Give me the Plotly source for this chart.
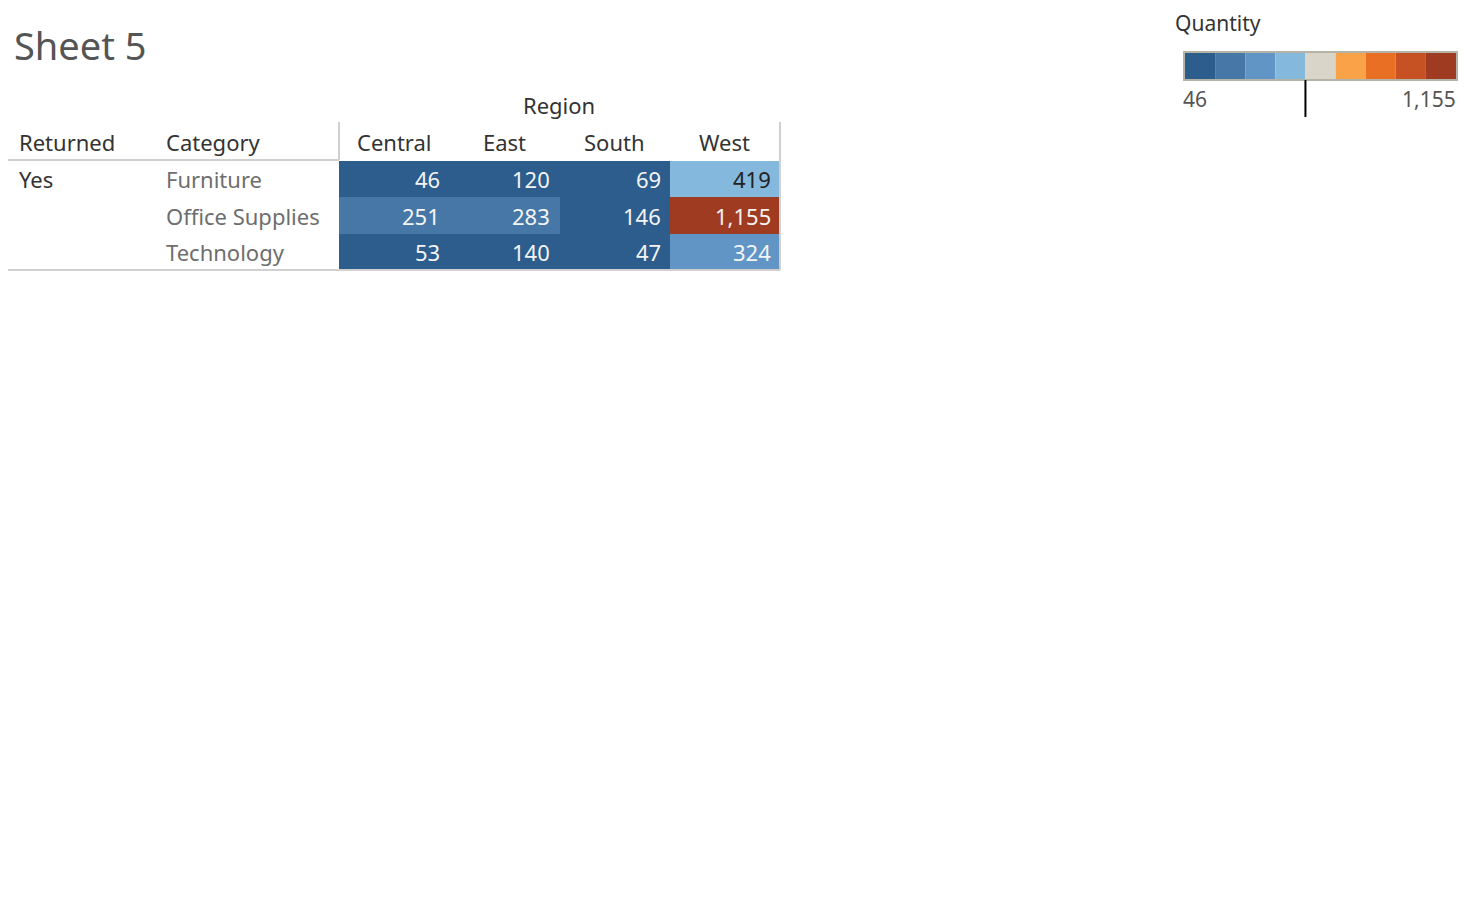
import plotly.graph_objects as go

# ---- data ----
regions = ["Central", "East", "South", "West"]
categories = ["Furniture", "Office Supplies", "Technology"]
returned = ["Yes"]
quantity = [
    [46, 120, 69, 419],
    [251, 283, 146, 1155],
    [53, 140, 47, 324],
]
q_min, q_max = 46, 1155
palette = ["#2c5d8c", "#4677a6", "#6195c5", "#84b8dc", "#d9d5c9",
           "#f9a247", "#e96f25", "#c65224", "#9e3b21"]

W, H = 1472, 908
FONT = "Noto Sans"

def py(px):
    return 1 - px / H

def pxx(px):
    return px / W

# discrete colorscale
n = len(palette)
cs = []
for i, c in enumerate(palette):
    cs.append([i / n, c])
    cs.append([(i + 1) / n, c])

fig = go.Figure()
fig.add_trace(go.Heatmap(
    z=quantity, x=regions, y=categories,
    colorscale=cs, zmin=q_min, zmax=q_max,
    showscale=False, xgap=0, ygap=0, hoverinfo="x+y+z",
))

def step_color(v):
    k = int((v - q_min) / (q_max - q_min) * n)
    return palette[min(max(k, 0), n - 1)]

def lum(hexc):
    r, g, b = (int(hexc[i:i + 2], 16) / 255 for i in (1, 3, 5))
    return 0.299 * r + 0.587 * g + 0.114 * b

ann = []
# cell values
for ri, cat in enumerate(categories):
    for ci, reg in enumerate(regions):
        v = quantity[ri][ci]
        col = "#222222" if lum(step_color(v)) > 0.62 else "#f4f4f4"
        ann.append(dict(x=reg, y=cat, xref="x", yref="y", text=f"{v:,}",
                        xanchor="right", xshift=48, showarrow=False,
                        font=dict(family=FONT, size=22, color=col)))
# column headers
for reg in regions:
    ann.append(dict(x=reg, y=py(142), xref="x", yref="paper", text=reg,
                    xanchor="center", yanchor="middle", showarrow=False,
                    font=dict(family=FONT, size=22, color="#333333")))
# row headers
for cat in categories:
    ann.append(dict(x=pxx(164), y=cat, xref="paper", yref="y", text=cat,
                    xanchor="left", showarrow=False,
                    font=dict(family=FONT, size=22, color="#6e6e6e")))
ann.append(dict(x=pxx(17), y=categories[0], xref="paper", yref="y", text=returned[0],
                xanchor="left", showarrow=False,
                font=dict(family=FONT, size=22, color="#333333")))
ann.append(dict(x=pxx(17), y=py(142), xref="paper", yref="paper", text="Returned",
                xanchor="left", yanchor="middle", showarrow=False,
                font=dict(family=FONT, size=22, color="#333333")))
ann.append(dict(x=pxx(164), y=py(142), xref="paper", yref="paper", text="Category",
                xanchor="left", yanchor="middle", showarrow=False,
                font=dict(family=FONT, size=22, color="#333333")))
ann.append(dict(x=pxx(559), y=py(105), xref="paper", yref="paper", text="Region",
                xanchor="center", yanchor="middle", showarrow=False,
                font=dict(family=FONT, size=22, color="#333333")))
ann.append(dict(x=pxx(12), y=py(45), xref="paper", yref="paper", text="Sheet 5",
                xanchor="left", yanchor="middle", showarrow=False,
                font=dict(family=FONT, size=38, color="#555555")))
# legend texts
ann.append(dict(x=pxx(1173), y=py(23), xref="paper", yref="paper", text="Quantity",
                xanchor="left", yanchor="middle", showarrow=False,
                font=dict(family=FONT, size=21, color="#333333")))
ann.append(dict(x=pxx(1181), y=py(99), xref="paper", yref="paper", text=f"{q_min:,}",
                xanchor="left", yanchor="middle", showarrow=False,
                font=dict(family=FONT, size=21, color="#555555")))
ann.append(dict(x=pxx(1458), y=py(99), xref="paper", yref="paper", text=f"{q_max:,}",
                xanchor="right", yanchor="middle", showarrow=False,
                font=dict(family=FONT, size=21, color="#555555")))

shapes = []
line_col = "#d0d0d0"
def hline(x0, x1, y, col=line_col, w=2):
    shapes.append(dict(type="line", xref="paper", yref="paper",
                       x0=pxx(x0), x1=pxx(x1), y0=py(y), y1=py(y),
                       line=dict(color=col, width=w)))
def vline(x, y0, y1, col=line_col, w=2):
    shapes.append(dict(type="line", xref="paper", yref="paper",
                       x0=pxx(x), x1=pxx(x), y0=py(y0), y1=py(y1),
                       line=dict(color=col, width=w)))
hline(8, 339, 160)
hline(8, 780, 270)
vline(339, 122, 160)
vline(780, 122, 270)

# color legend
lx0, lx1, ly0, ly1 = 1185, 1456, 53, 79
sw = (lx1 - lx0) / n
for i, c in enumerate(palette):
    shapes.append(dict(type="rect", xref="paper", yref="paper",
                       x0=pxx(lx0 + i * sw), x1=pxx(lx0 + (i + 1) * sw),
                       y0=py(ly1), y1=py(ly0), fillcolor=c, line=dict(width=0)))
shapes.append(dict(type="rect", xref="paper", yref="paper",
                   x0=pxx(lx0 - 1), x1=pxx(lx1 + 1), y0=py(ly1 + 1), y1=py(ly0 - 1),
                   line=dict(color="#b5b3a8", width=2)))
vline(lx0 + 4 * sw, 80, 117, col="#000000", w=2)

fig.update_layout(
    width=W, height=H, margin=dict(l=0, r=0, t=0, b=0),
    paper_bgcolor="white", plot_bgcolor="white",
    xaxis=dict(domain=[pxx(339), pxx(780)], showticklabels=False, showgrid=False,
               zeroline=False, ticks="", fixedrange=True),
    yaxis=dict(domain=[py(270), py(161)], showticklabels=False, showgrid=False,
               zeroline=False, ticks="", autorange="reversed", fixedrange=True),
    annotations=ann, shapes=shapes, showlegend=False,
)
fig.write_html("out.html")
